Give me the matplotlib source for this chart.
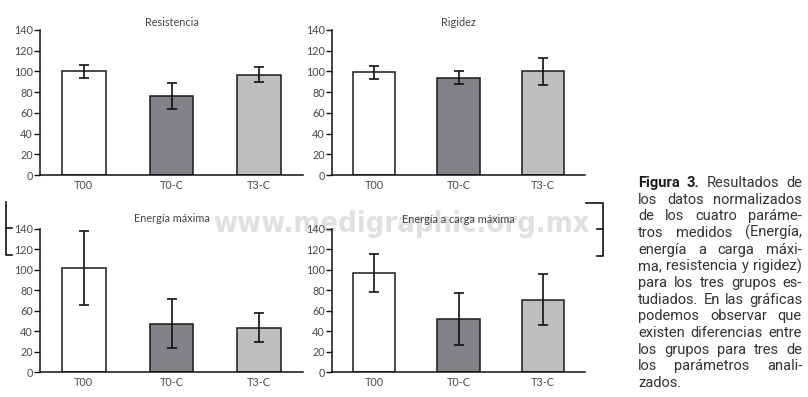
import matplotlib
matplotlib.use('Agg')
import matplotlib.pyplot as plt
from matplotlib import font_manager as fm
from matplotlib.lines import Line2D
import numpy as np

# ---------------- data ----------------
groups = ['T00', 'T0-C', 'T3-C']
titles = ['Resistencia', 'Rigidez', 'Energía máxima', 'Energía a carga máxima']
resistencia_mean = [100, 76, 97]
resistencia_err = [6, 12.5, 7]
rigidez_mean = [99, 94, 100]
rigidez_err = [6, 6, 12.7]
energia_mean = [102, 47.5, 43.5]
energia_err = [36, 24.3, 13.8]
energia_carga_mean = [97, 52, 71]
energia_carga_err = [19, 25, 25]
yticks = [0, 20, 40, 60, 80, 100, 120, 140]
bar_colors = ['#ffffff', '#808285', '#bcbec0']

caption_lines = [
    [('Figura', True), ('3.', True), ('Resultados', False), ('de', False)],
    [('los datos normalizados', False)],
    [('de los cuatro paráme-', False)],
    [('tros medidos (Energía,', False)],
    [('energía a carga máxi-', False)],
    [('ma, resistencia y rigidez)', False)],
    [('para los tres grupos es-', False)],
    [('tudiados. En las gráficas', False)],
    [('podemos observar que', False)],
    [('existen diferencias entre', False)],
    [('los grupos para tres de', False)],
    [('los parámetros anali-', False)],
    [('zados.', False)],
]
watermark = 'www.medigraphic.org.mx'

# ---------------- figure ----------------
W, H = 808, 397
fig = plt.figure(figsize=(W / 100, H / 100), dpi=100)
fig.patch.set_facecolor('white')

names = {f.name for f in fm.fontManager.ttflist}
base_font = 'Lato' if 'Lato' in names else 'DejaVu Sans'
cap_font = base_font
for c in ['Roboto', 'Lato']:
    if c in names:
        cap_font = c
        break


def rect(x0, x1, ytop, ybot):
    return [x0 / W, 1 - ybot / H, (x1 - x0) / W, (ybot - ytop) / H]


def px_line(xs, ys, lw=1.2, color='#111111'):
    fig.add_artist(Line2D([x / W for x in xs], [1 - y / H for y in ys],
                          transform=fig.transFigure, color=color, lw=lw))


renderer = fig.canvas.get_renderer()

# watermark font: prefer a bold condensed/narrow face if one is installed
best = None
for f in fm.fontManager.ttflist:
    nm = f.name + ' ' + str(f.fname)
    if 'Condensed' in nm or 'Narrow' in nm:
        w = f.weight if isinstance(f.weight, int) else (700 if 'bold' in str(f.weight) else 400)
        score = abs(w - 700)
        if best is None or score < best[0]:
            best = (score, f.fname)
if best is not None:
    wm_props = fm.FontProperties(fname=best[1])
else:
    fam = 'Liberation Sans' if 'Liberation Sans' in names else 'DejaVu Sans'
    wm_props = fm.FontProperties(family=fam, weight='bold')
wm_props.set_size(30)
wm = fig.text(401.5 / W, 1 - 232 / H, watermark, ha='center', va='baseline',
              fontproperties=wm_props, color='#e0e0e0', zorder=-5)
wmw = wm.get_window_extent(renderer).width
wm.set_fontsize(30 * 377 / wmw)

rects = [rect(40, 303, 30, 175), rect(332, 585, 30, 175),
         rect(40, 303, 228.5, 372.3), rect(332, 585, 229, 372.3)]
means = [resistencia_mean, rigidez_mean, energia_mean, energia_carga_mean]
errs = [resistencia_err, rigidez_err, energia_err, energia_carga_err]
pads = [3.2, 3.2, 4.6, 4.6]

x = np.arange(len(groups))
for r, m, e, t, pad in zip(rects, means, errs, titles, pads):
    ax = fig.add_axes(r)
    ax.set_zorder(1)
    ax.patch.set_visible(False)
    ax.bar(x, m, width=0.5, color=bar_colors, edgecolor='#1a1a1a',
           linewidth=1.1, zorder=2)
    ax.errorbar(x, m, yerr=e, fmt='none', ecolor='#111111', elinewidth=1.2,
                capsize=3.6, capthick=1.2, zorder=3)
    ax.set_xlim(-0.5, 2.5)
    ax.set_ylim(0, 140)
    ax.set_yticks(yticks)
    ax.set_xticks(x)
    ax.set_xticklabels(groups)
    for s in ['top', 'right']:
        ax.spines[s].set_visible(False)
    for s in ['left', 'bottom']:
        ax.spines[s].set_linewidth(1.1)
        ax.spines[s].set_color('#111111')
    ax.tick_params(axis='y', length=4, width=1, pad=1, labelsize=7.8,
                   labelcolor='#4a4a4a', color='#111111')
    ax.tick_params(axis='x', length=0, pad=3.5, labelsize=7.8,
                   labelcolor='#4a4a4a')
    for lab in ax.get_xticklabels() + ax.get_yticklabels():
        lab.set_family(base_font)
    ax.set_title(t, fontsize=7.8, color='#444444', pad=pad, family=base_font)

# page brackets
px_line([6, 6, 12], [202, 255, 255])
px_line([6, 12], [228, 228])
px_line([586, 603, 603, 597], [203.3, 203.3, 256, 256])
px_line([597, 603], [229, 229])

# caption, justified between x0 and x1
x0, x1 = 638, 802
fs = 10.5


def wtext(s, bold, size):
    tt = fig.text(0, 0, s, fontsize=size, family=cap_font,
                  fontweight='bold' if bold else 'normal')
    w = tt.get_window_extent(renderer).width
    tt.remove()
    return w


def split_words(line):
    out = []
    for s, b in line:
        for wd in s.split(' '):
            out.append((wd, b))
    return out


maxw = 0
for line in caption_lines:
    words = split_words(line)
    sw = wtext('a a', False, fs) - 2 * wtext('a', False, fs)
    tot = sum(wtext(wd, b, fs) for wd, b in words) + sw * (len(words) - 1)
    maxw = max(maxw, tot)
if maxw > (x1 - x0):
    fs = fs * (x1 - x0) / maxw * 0.995

for i, line in enumerate(caption_lines):
    words = split_words(line)
    yb = 187 + i * 16.67
    widths = [wtext(wd, b, fs) for wd, b in words]
    sw = wtext('a a', False, fs) - 2 * wtext('a', False, fs)
    if i < len(caption_lines) - 1 and len(words) > 1:
        gap = ((x1 - x0) - sum(widths)) / (len(words) - 1)
    else:
        gap = sw
    cx = x0
    for (wd, b), w in zip(words, widths):
        fig.text(cx / W, 1 - yb / H, wd, fontsize=fs, family=cap_font,
                 fontweight='bold' if b else 'normal',
                 color='#1a1a1a' if b else '#333333', va='baseline', ha='left')
        cx += w + gap

fig.savefig('out.png', dpi=100, facecolor='white')
